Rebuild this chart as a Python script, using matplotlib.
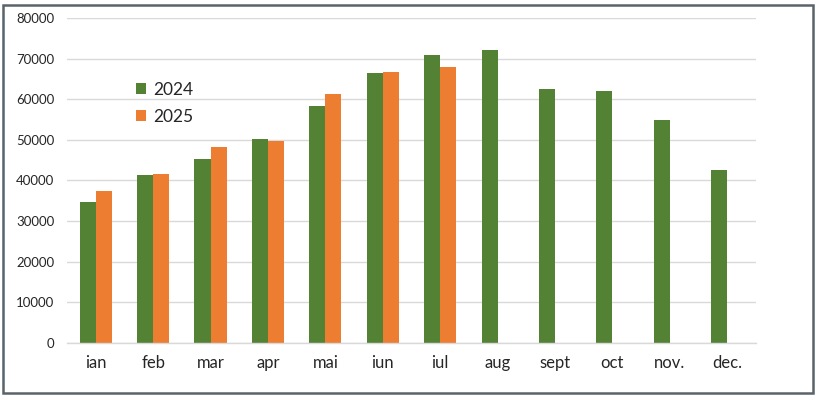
import numpy as np
import matplotlib
matplotlib.use("Agg")
import matplotlib.pyplot as plt
from matplotlib.patches import Rectangle

# monthly values
months = ["ian", "feb", "mar", "apr", "mai", "iun", "iul", "aug", "sept", "oct", "nov.", "dec."]
vals_2024 = [34800, 41400, 45200, 50300, 58400, 66400, 70900, 72100, 62600, 62100, 54900, 42600]
vals_2025 = [37300, 41500, 48200, 49600, 61300, 66700, 68000]
yticks = [0, 10000, 20000, 30000, 40000, 50000, 60000, 70000, 80000]

GREEN = "#548235"
ORANGE = "#ED7D31"
GRID = "#d9d9d9"
TEXT = "#262626"

plt.rcParams['font.family'] = ['Lato', 'DejaVu Sans']

fig = plt.figure(figsize=(8.19, 3.98), dpi=100)
ax = fig.add_axes([0.0818, 0.1382, 0.8412, 0.8166])

x = np.arange(len(months))
w = 0.28
ax.bar(x - w / 2, vals_2024, width=w, color=GREEN, label="2024", zorder=2)
ax.bar(x[:len(vals_2025)] + w / 2, vals_2025, width=w, color=ORANGE, label="2025", zorder=2)

ax.set_xlim(-0.5, len(months) - 0.5)
ax.set_ylim(0, 80000)
ax.set_yticks(yticks)
ax.set_yticklabels([str(v) for v in yticks], fontsize=9.5, color=TEXT)
ax.set_xticks(x)
ax.set_xticklabels(months, fontsize=12, color=TEXT)
ax.tick_params(axis="both", length=0)
ax.tick_params(axis="y", pad=9)
ax.tick_params(axis="x", pad=9)
ax.grid(axis="y", color=GRID, linewidth=1, zorder=0)
for s in ["top", "right", "left"]:
    ax.spines[s].set_visible(False)
ax.spines["bottom"].set_color(GRID)
ax.spines["bottom"].set_linewidth(1)

ax.legend(loc="upper left", bbox_to_anchor=(136 / 819, 1 - 82 / 398),
          bbox_transform=fig.transFigure, frameon=False, fontsize=12.5,
          handlelength=0.6, handleheight=0.6, handletextpad=0.4,
          labelspacing=0.62, borderpad=0, borderaxespad=0,
          labelcolor=TEXT)

# outer chart border
fig.patches.append(Rectangle((3 / 819, 5 / 398), 810 / 819, 388 / 398,
                             transform=fig.transFigure, fill=False,
                             edgecolor="#59636b", linewidth=1.8))

fig.savefig("out.png", dpi=100)
